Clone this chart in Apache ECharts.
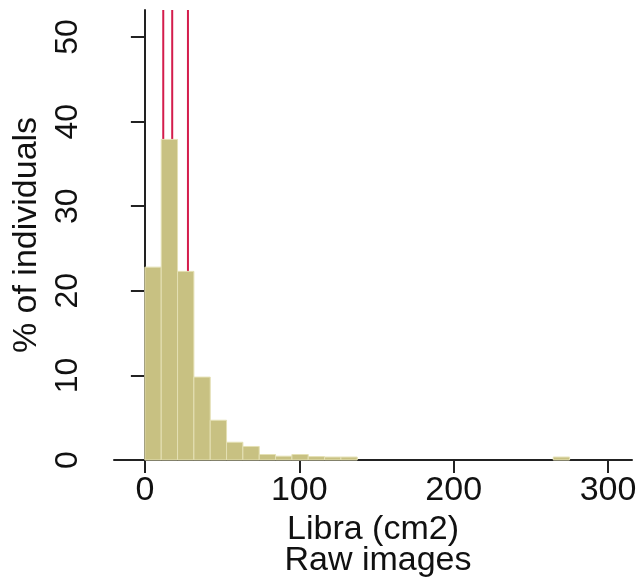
<!DOCTYPE html>
<html>
<head>
<meta charset="utf-8">
<script src="https://cdn.jsdelivr.net/npm/echarts@6/dist/echarts.min.js"></script>
<style>
html,body{margin:0;padding:0;background:#fff;}
#chart{width:644px;height:581px;}
</style>
</head>
<body>
<div id="chart"></div>
<script>
// Histogram: bin width (cm2) and % of individuals per bin, starting at 0
var binWidth = 10.58;
var percents = [22.8, 37.9, 22.3, 9.8, 4.7, 2.1, 1.6, 0.65, 0.45, 0.65, 0.4, 0.35, 0.35,
                0, 0, 0, 0, 0, 0, 0, 0, 0, 0, 0, 0, 0.35];
// Vertical reference lines (quartiles)
var refLines = [11.9, 17.7, 27.9];
var xTicks = [0, 100, 200, 300];
var yTicks = [0, 10, 20, 30, 40, 50];
var yMax = 53.2;

var barData = [];
percents.forEach(function (p, i) {
  if (p > 0) barData.push([i * binWidth, (i + 1) * binWidth, p]);
});

var FONT = 'Liberation Sans, Arial, sans-serif';
var refSeries = refLines.map(function (v) {
  return {
    type: 'line', z: 1, silent: true, symbol: 'none',
    data: [[v, 0], [v, yMax]],
    lineStyle: {color: '#d41c4c', width: 2}
  };
});

var chart = echarts.init(document.getElementById('chart'));
chart.setOption({
  animation: false,
  backgroundColor: '#fff',
  title: {
    text: 'Raw images',
    left: 373, textAlign: 'center',
    top: 539,
    textStyle: {fontFamily: FONT, fontSize: 34, fontWeight: 'normal', color: '#111'}
  },
  grid: {left: 114, right: 12, top: 10, bottom: 121, containLabel: false},
  xAxis: {
    type: 'value', min: -20, max: 315.5,
    splitLine: {show: false},
    axisLine: {show: true, onZero: false, lineStyle: {color: '#222', width: 2}},
    axisTick: {show: true, length: 13, lineStyle: {color: '#222', width: 2}, customValues: xTicks},
    axisLabel: {show: true, customValues: xTicks, margin: 14, fontFamily: FONT, fontSize: 34, color: '#111'},
    name: 'Libra (cm2)', nameLocation: 'middle', nameGap: 52,
    nameTextStyle: {fontFamily: FONT, fontSize: 34, color: '#111'}
  },
  yAxis: {
    type: 'value', min: 0, max: yMax,
    splitLine: {show: false},
    axisLine: {show: true, lineStyle: {color: '#222', width: 2}},
    axisTick: {show: true, length: 14, lineStyle: {color: '#222', width: 2}, customValues: yTicks},
    axisLabel: {show: true, customValues: yTicks, rotate: 90, margin: 30, fontFamily: FONT, fontSize: 32, color: '#111'},
    name: '% of individuals', nameLocation: 'middle', nameGap: 67,
    nameTextStyle: {fontFamily: FONT, fontSize: 34, color: '#111'}
  },
  series: refSeries.concat([
    {
      type: 'custom', z: 3,
      data: barData,
      encode: {x: [0, 1], y: 2},
      renderItem: function (params, api) {
        var p0 = api.coord([api.value(0), api.value(2)]);
        var p1 = api.coord([api.value(1), 0]);
        return {
          type: 'rect',
          shape: {x: p0[0], y: p0[1], width: p1[0] - p0[0], height: p1[1] - p0[1]},
          style: {fill: '#c8c182', stroke: '#e4e0b4', lineWidth: 1}
        };
      }
    }
  ])
});
</script>
</body>
</html>
